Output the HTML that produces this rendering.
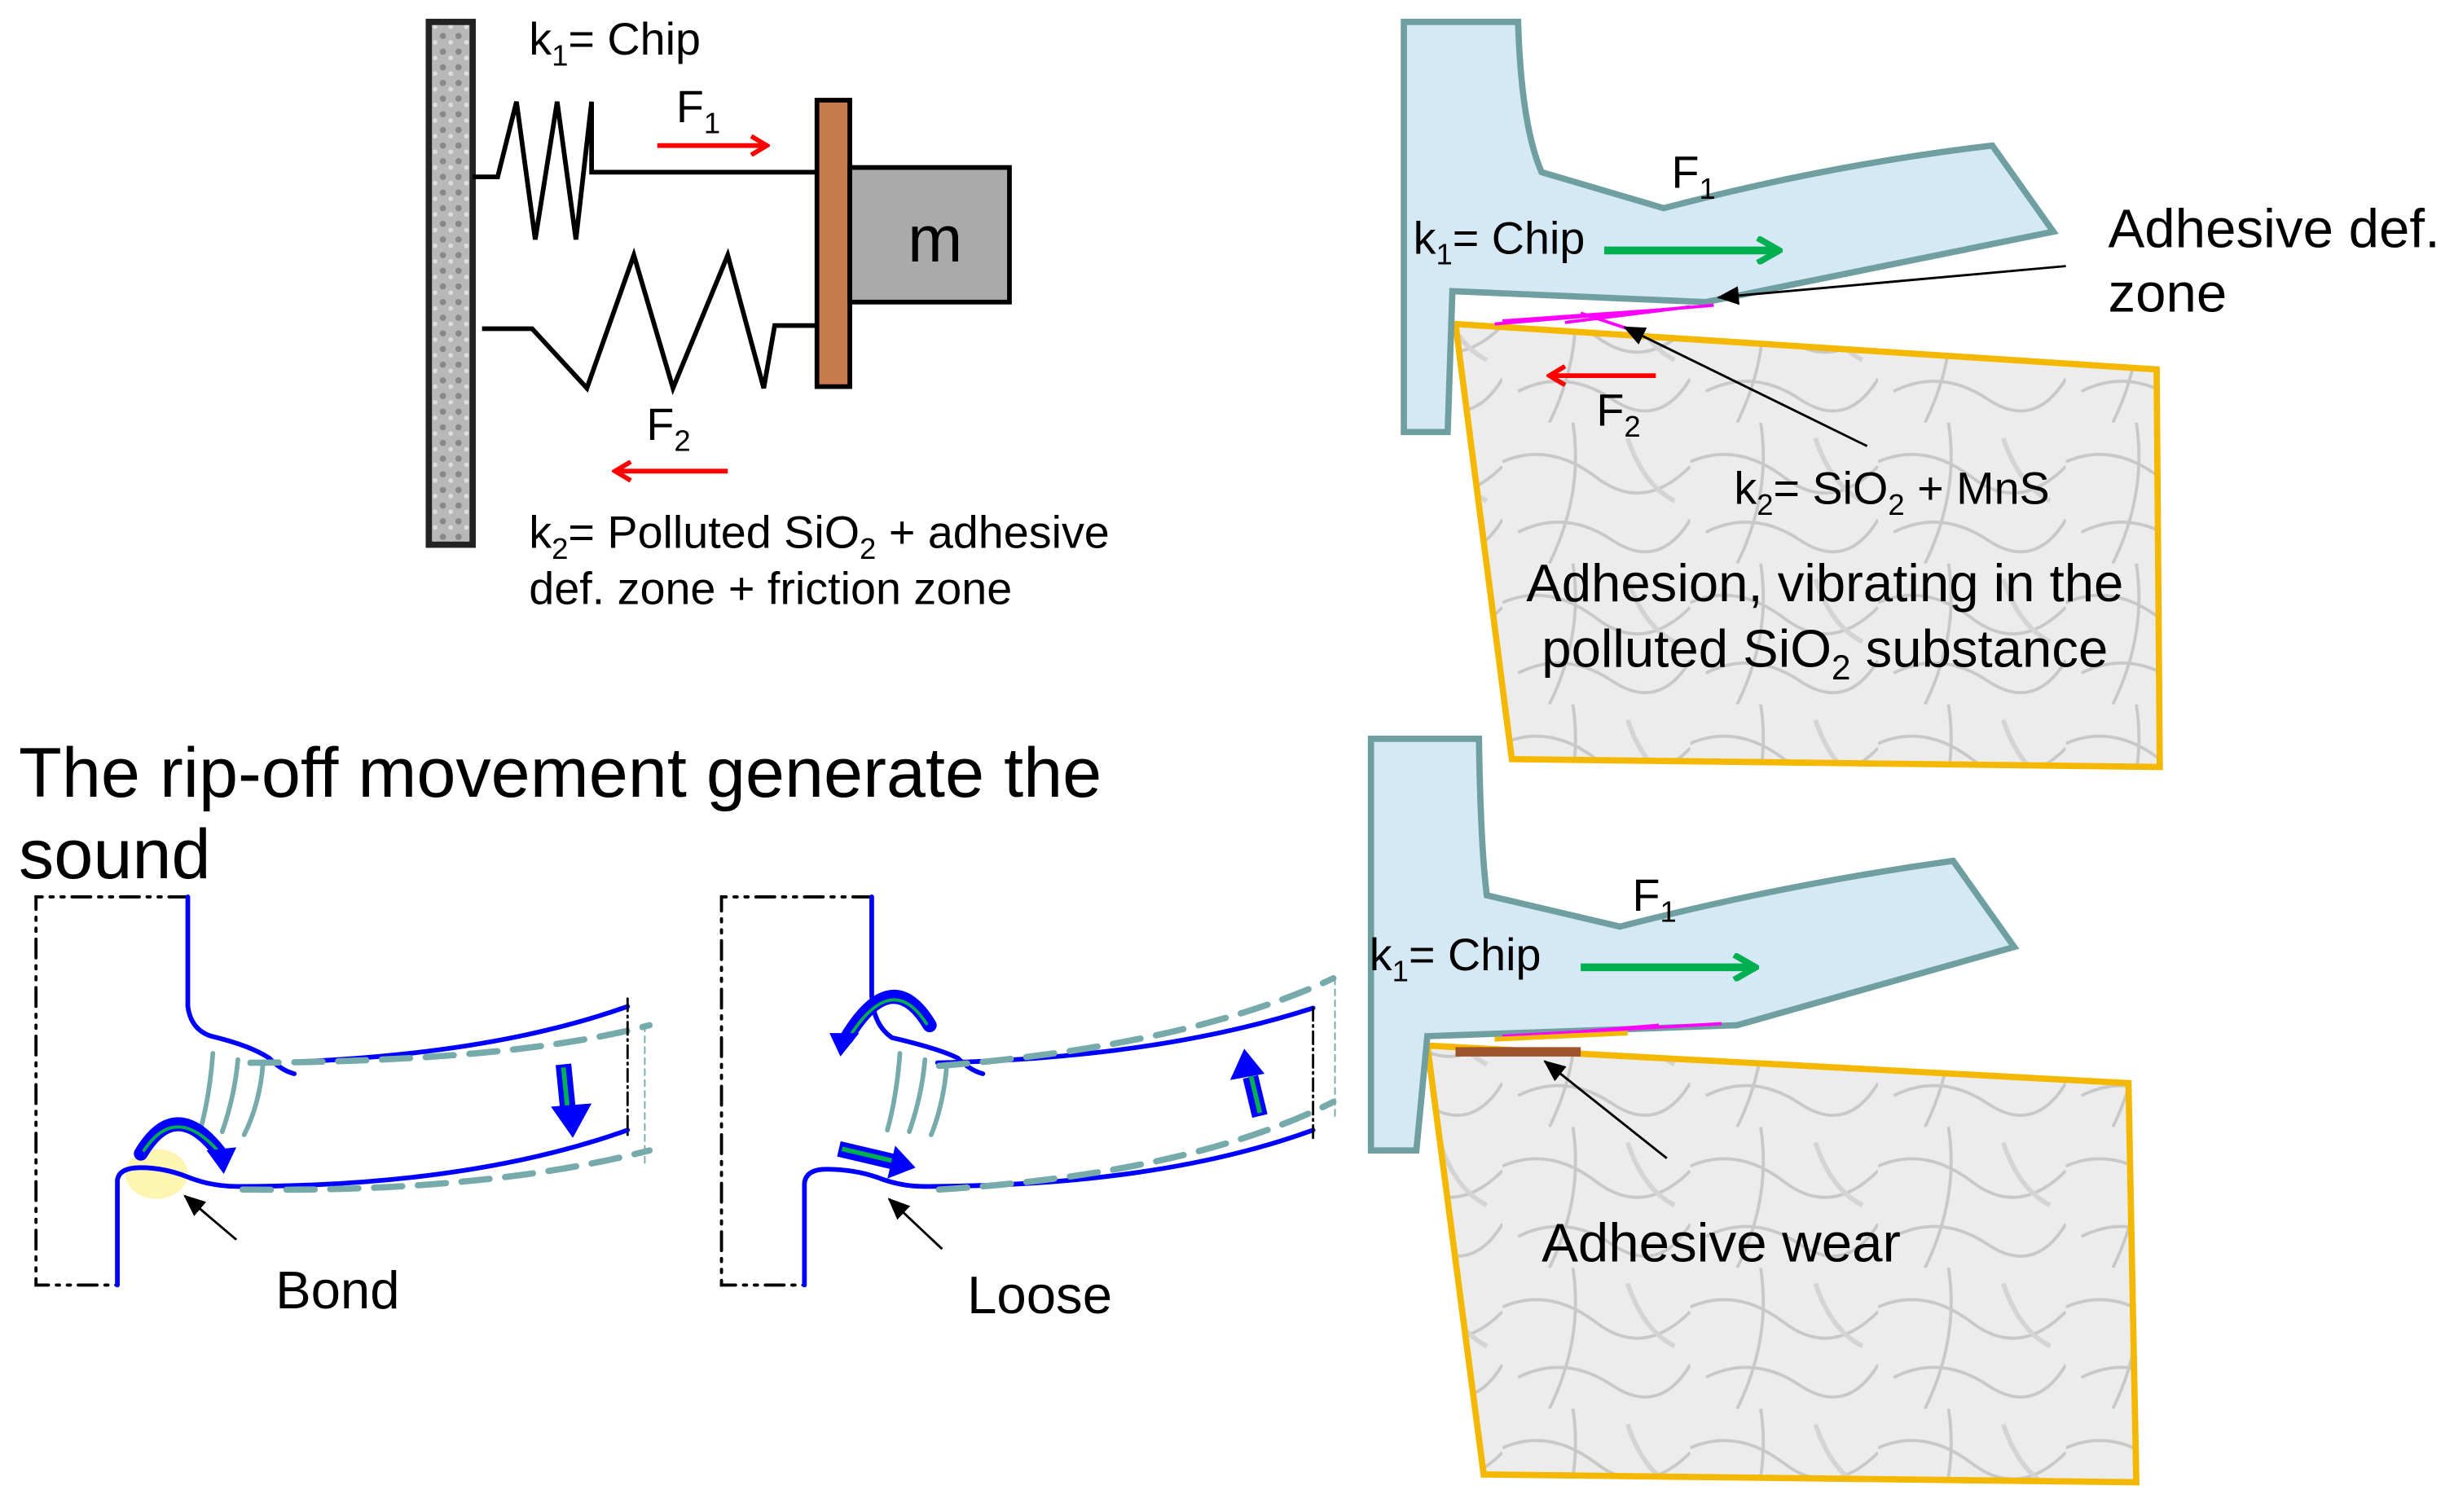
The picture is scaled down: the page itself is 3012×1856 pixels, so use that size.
<!DOCTYPE html>
<html><head><meta charset="utf-8"><style>html,body{margin:0;padding:0;background:#fff}svg{display:block}</style></head><body>
<svg width="3012" height="1856" viewBox="0 0 1568 966" preserveAspectRatio="none" xmlns="http://www.w3.org/2000/svg" font-family="Liberation Sans, sans-serif">
<defs>
<marker id="ar" markerWidth="14" markerHeight="14" refX="12" refY="7" orient="auto" markerUnits="userSpaceOnUse"><path d="M2,1 L12,7 L2,13" fill="none" stroke="#f00" stroke-width="3"/></marker>
<marker id="ag" markerWidth="18" markerHeight="18" refX="16" refY="9" orient="auto" markerUnits="userSpaceOnUse"><path d="M2,1 L16,9 L2,17" fill="none" stroke="#00b050" stroke-width="4"/></marker>
<marker id="ab" markerWidth="14" markerHeight="12" refX="13" refY="6" orient="auto" markerUnits="userSpaceOnUse"><path d="M0,0 L14,6 L0,12 Z" fill="#000"/></marker>
<pattern id="marble" width="120" height="90" patternUnits="userSpaceOnUse"><rect width="120" height="90" fill="#ececec"/><path d="M0,25 Q30,12 60,35 T120,28 M10,70 Q40,55 70,75 T120,62 M45,0 Q52,45 30,90" stroke="#c8c8c8" stroke-width="2" fill="none"/><path d="M80,10 Q90,40 110,50" stroke="#d4d4d4" stroke-width="3" fill="none"/></pattern>
<pattern id="wall" width="10" height="10" patternUnits="userSpaceOnUse"><rect width="10" height="10" fill="#b8b8b8"/><circle cx="3" cy="3" r="2" fill="#888"/><circle cx="8" cy="7" r="1.5" fill="#ddd"/></pattern>
</defs>
<rect x="274" y="14" width="28" height="334" fill="url(#wall)" stroke="#222" stroke-width="4"/>
<polyline points="302,113 318,113 330,65 342,153 356,65 368,153 378,65 378,110 522,110" fill="none" stroke="#000" stroke-width="3"/>
<polyline points="308,210 340,210 375,248 405,163 430,248 465,163 488,248 495,208 522,208" fill="none" stroke="#000" stroke-width="3"/>
<rect x="522" y="64" width="21" height="183" fill="#c87b4f" stroke="#000" stroke-width="3"/>
<rect x="543" y="107" width="102" height="86" fill="#aaa" stroke="#000" stroke-width="3"/>
<text x="580" y="167" font-size="42">m</text>
<text x="338" y="35" font-size="29">k<tspan font-size="19" dy="7">1</tspan><tspan dy="-7">= Chip</tspan></text>
<text x="432" y="78" font-size="29">F<tspan font-size="19" dy="7">1</tspan></text>
<line x1="420" y1="93" x2="490" y2="93" stroke="#f00" stroke-width="3" marker-end="url(#ar)"/>
<text x="413" y="281" font-size="29">F<tspan font-size="19" dy="7">2</tspan></text>
<line x1="465" y1="301" x2="393" y2="301" stroke="#f00" stroke-width="3" marker-end="url(#ar)"/>
<text x="338" y="350" font-size="29">k<tspan font-size="19" dy="7">2</tspan><tspan dy="-7">= Polluted SiO</tspan><tspan font-size="19" dy="7">2</tspan><tspan dy="-7"> + adhesive</tspan></text>
<text x="338" y="386" font-size="29">def. zone + friction zone</text>
<polygon points="930,207 1378,236 1380,490 966,485" fill="url(#marble)" stroke="#f5b800" stroke-width="4"/>
<path d="M897,14 L970,14 Q972,80 985,110 L1063,133 Q1170,105 1273,93 L1312,148 L1090,193 L928,186 L925,276 L897,276 Z" fill="#d5e8f5" stroke="#6f9fa0" stroke-width="4"/>
<path d="M955,207 L1095,195 M960,205 L1060,198 M1000,206 L1080,196 M1010,200 L1040,210" stroke="#f0f" stroke-width="2"/>
<text x="1068" y="120" font-size="29">F<tspan font-size="19" dy="7">1</tspan></text>
<text x="903" y="162" font-size="29">k<tspan font-size="19" dy="7">1</tspan><tspan dy="-7">= Chip</tspan></text>
<line x1="1025" y1="160" x2="1137" y2="160" stroke="#00b050" stroke-width="5" marker-end="url(#ag)"/>
<text x="1347" y="158" font-size="35">Adhesive def.</text>
<text x="1347" y="199" font-size="35">zone</text>
<line x1="1320" y1="170" x2="1098" y2="190" stroke="#000" stroke-width="1.5" marker-end="url(#ab)"/>
<line x1="1058" y1="240" x2="990" y2="240" stroke="#f00" stroke-width="3" marker-end="url(#ar)"/>
<text x="1020" y="272" font-size="29">F<tspan font-size="19" dy="7">2</tspan></text>
<line x1="1193" y1="285" x2="1038" y2="209" stroke="#000" stroke-width="1.5" marker-end="url(#ab)"/>
<text x="1108" y="322" font-size="29">k<tspan font-size="19" dy="7">2</tspan><tspan dy="-7">= SiO</tspan><tspan font-size="19" dy="7">2</tspan><tspan dy="-7"> + MnS</tspan></text>
<text x="1166" y="384" font-size="34" text-anchor="middle">Adhesion, vibrating in the</text>
<text x="1166" y="426" font-size="34" text-anchor="middle">polluted SiO<tspan font-size="22" dy="8">2</tspan><tspan dy="-8"> substance</tspan></text>
<polygon points="912,668 1360,692 1365,947 948,942" fill="url(#marble)" stroke="#f5b800" stroke-width="4"/>
<path d="M876,472 L945,472 Q946,540 950,572 L1035,592 Q1140,565 1248,550 L1287,605 L1110,655 L912,662 L905,735 L876,735 Z" fill="#d5e8f5" stroke="#6f9fa0" stroke-width="4"/>
<path d="M960,662 L1100,654 M1000,660 L1060,655" stroke="#f0f" stroke-width="2"/>
<path d="M955,664 L1040,660" stroke="#f5b800" stroke-width="3"/>
<rect x="930" y="669" width="80" height="6" fill="#a0522d"/>
<text x="1043" y="582" font-size="29">F<tspan font-size="19" dy="7">1</tspan></text>
<text x="875" y="620" font-size="29">k<tspan font-size="19" dy="7">1</tspan><tspan dy="-7">= Chip</tspan></text>
<line x1="1010" y1="618" x2="1122" y2="618" stroke="#00b050" stroke-width="5" marker-end="url(#ag)"/>
<line x1="1065" y1="740" x2="987" y2="678" stroke="#000" stroke-width="1.5" marker-end="url(#ab)"/>
<text x="985" y="806" font-size="35">Adhesive wear</text>
<text x="12" y="509" font-size="45">The rip-off movement generate the</text>
<text x="12" y="561" font-size="45">sound</text>
<ellipse cx="100" cy="750" rx="20" ry="16" fill="#fff3a0" opacity="0.8"/>
<g fill="none" stroke-linecap="round">
<path d="M120,573 L23,573 L23,821 L75,821" stroke="#000" stroke-width="2" stroke-dasharray="12,5,2,5,2,5"/>
<path d="M120,573 L120,643 Q122,658 135,662 Q160,668 172,676 Q180,684 188,686" stroke="#00f" stroke-width="3"/>
<path d="M198,678 Q320,672 401,643" stroke="#00f" stroke-width="3"/>
<path d="M160,679 Q330,678 415,655" stroke="#7aa" stroke-width="4" stroke-dasharray="18,10"/>
<path d="M75,821 L75,754 Q76,746 90,746 Q105,746 120,752 Q135,758 152,758 Q300,758 401,722" stroke="#00f" stroke-width="3"/>
<path d="M155,760 Q310,762 415,735" stroke="#7aa" stroke-width="4" stroke-dasharray="18,10"/>
<path d="M401,638 L401,728" stroke="#000" stroke-width="1.5" stroke-dasharray="8,3,1,3"/>
<path d="M412,655 L412,745" stroke="#7aa" stroke-width="1" stroke-dasharray="4,3"/>
<path d="M136,673 Q134,700 128,722 M152,677 Q150,700 142,723 M168,680 Q166,705 156,725" stroke="#7aa" stroke-width="3"/>
<path d="M90,737 Q112,700 140,736" stroke="#00f" stroke-width="9"/>
<path d="M92,735 Q112,705 139,735" stroke="#00b050" stroke-width="2"/>
<path d="M360,680 L363,710" stroke="#00f" stroke-width="10" stroke-linecap="butt"/>
<path d="M360,682 L363,712" stroke="#00b050" stroke-width="3" stroke-linecap="butt"/>
</g>
<polygon points="132,735 151,733 143,750" fill="#00f"/>
<polygon points="352,707 378,705 366,727" fill="#00f"/>
<line x1="151" y1="792" x2="118" y2="764" stroke="#000" stroke-width="1.5" marker-end="url(#ab)"/>
<text x="176" y="836" font-size="34">Bond</text>
<g fill="none" stroke-linecap="round">
<path d="M557,573 L461,573 L461,821 L514,821" stroke="#000" stroke-width="2" stroke-dasharray="12,5,2,5,2,5"/>
<path d="M557,573 L557,636 Q558,655 570,663 Q600,670 612,676 Q620,684 628,686" stroke="#00f" stroke-width="3"/>
<path d="M599,679 Q740,676 839,644" stroke="#00f" stroke-width="3"/>
<path d="M600,681 Q760,668 852,625" stroke="#7aa" stroke-width="4" stroke-dasharray="18,10"/>
<path d="M514,821 L514,756 Q515,747 528,747 Q545,747 560,752 Q575,758 590,758 Q740,758 839,722" stroke="#00f" stroke-width="3"/>
<path d="M600,760 Q760,750 852,704" stroke="#7aa" stroke-width="4" stroke-dasharray="18,10"/>
<path d="M839,644 L839,728" stroke="#000" stroke-width="1.5" stroke-dasharray="8,3,1,3"/>
<path d="M853,625 L853,715" stroke="#7aa" stroke-width="1" stroke-dasharray="4,3"/>
<path d="M575,673 Q573,700 567,722 M591,677 Q589,700 581,723 M605,680 Q603,705 595,725" stroke="#7aa" stroke-width="3"/>
<path d="M594,655 Q570,615 541,663" stroke="#00f" stroke-width="9"/>
<path d="M592,654 Q570,620 543,662" stroke="#00b050" stroke-width="2"/>
<path d="M536,734 L570,742" stroke="#00f" stroke-width="10" stroke-linecap="butt"/>
<path d="M538,734 L572,742" stroke="#00b050" stroke-width="3" stroke-linecap="butt"/>
<path d="M805,713 L799,688" stroke="#00f" stroke-width="10" stroke-linecap="butt"/>
<path d="M805,711 L799,686" stroke="#00b050" stroke-width="3" stroke-linecap="butt"/>
</g>
<polygon points="530,660 549,660 537,675" fill="#00f"/>
<polygon points="572,732 567,753 585,746" fill="#00f"/>
<polygon points="786,690 808,686 795,670" fill="#00f"/>
<line x1="602" y1="798" x2="568" y2="766" stroke="#000" stroke-width="1.5" marker-end="url(#ab)"/>
<text x="618" y="839" font-size="34">Loose</text>
</svg>
</body></html>
